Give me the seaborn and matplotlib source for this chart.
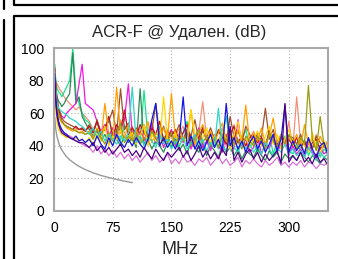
import matplotlib
matplotlib.use("Agg")
import matplotlib.pyplot as plt
import seaborn as sns
import pandas as pd
from matplotlib.lines import Line2D

# frequency points (MHz)
freq = [1, 2, 3, 4, 6, 8, 10, 13, 16, 20, 24, 28, 32, 36, 40,
        45, 50, 55, 60, 65, 70, 75, 80, 85, 90, 95, 100,
        105, 110, 115, 120, 125, 130, 135, 140, 145, 150,
        155, 160, 165, 170, 175, 180, 185, 190, 195, 200,
        205, 210, 215, 220, 225, 230, 235, 240, 245, 250,
        255, 260, 265, 270, 275, 280, 285, 290, 295, 300,
        305, 310, 315, 320, 325, 330, 335, 340, 345, 350]

salmon = [84, 80, 79, 78, 76, 74, 73, 70, 68, 66, 64, 62, 64, 60, 58,
          55, 50, 54, 47, 53, 46, 51, 45, 56, 48, 44, 52,
          46, 51, 43, 49, 55, 44, 48, 42, 50, 45,
          41, 48, 52, 43, 47, 40, 49, 67, 44, 39,
          47, 42, 51, 40, 45, 53, 41, 46, 38, 44,
          49, 40, 45, 37, 50, 42, 39, 46, 41, 55,
          38, 70, 42, 36, 44, 39, 47, 35, 41, 37]
spring = [90, 82, 78, 75, 73, 72, 70, 73, 76, 80, 100, 72, 66, 60, 56,
          54, 48, 55, 46, 51, 58, 45, 50, 43, 53, 47, 44,
          50, 42, 74, 45, 49, 41, 52, 44, 47, 40,
          46, 39, 48, 55, 41, 45, 38, 52, 43, 40,
          44, 38, 47, 58, 40, 46, 37, 43, 50, 39,
          42, 36, 45, 40, 48, 35, 43, 39, 46, 37,
          35, 41, 37, 44, 34, 39, 42, 33, 38, 35]
seagreen = [85, 78, 73, 70, 67, 66, 64, 66, 69, 72, 97, 66, 70, 58, 54,
            50, 46, 49, 43, 47, 41, 48, 44, 40, 46, 42, 45,
            39, 75, 41, 44, 38, 43, 40, 36, 42, 39,
            44, 37, 41, 35, 43, 39, 36, 42, 34, 40,
            37, 33, 41, 36, 39, 34, 38, 32, 37, 35,
            33, 38, 34, 31, 37, 33, 36, 30, 35, 32,
            34, 31, 36, 33, 30, 34, 32, 29, 33, 31]
magenta = [86, 76, 70, 66, 62, 60, 58, 57, 60, 62, 64, 66, 78, 90, 66,
           64, 62, 55, 49, 53, 46, 51, 44, 50, 56, 78, 47,
           43, 49, 45, 41, 54, 42, 47, 39, 45, 50,
           40, 46, 42, 49, 38, 44, 51, 39, 43, 37,
           45, 40, 36, 47, 41, 38, 56, 40, 44, 36,
           39, 46, 35, 42, 38, 47, 36, 41, 44, 34,
           40, 35, 38, 33, 42, 36, 32, 39, 35, 37]
brown = [88, 78, 72, 68, 63, 60, 57, 55, 54, 53, 52, 51, 50, 50, 49,
         53, 48, 56, 47, 51, 55, 62, 47, 75, 50, 54, 46,
         51, 47, 53, 45, 49, 66, 46, 52, 44, 49,
         47, 53, 44, 50, 46, 56, 43, 49, 45, 51,
         44, 50, 46, 42, 58, 45, 49, 43, 52, 47,
         42, 48, 45, 63, 44, 50, 41, 47, 43, 46,
         45, 41, 47, 40, 44, 38, 46, 42, 39, 43]
crimson = [87, 79, 73, 68, 62, 58, 55, 53, 52, 51, 50, 52, 50, 51, 49,
           52, 48, 55, 47, 50, 58, 46, 53, 49, 62, 47, 51,
           46, 53, 48, 44, 51, 47, 55, 43, 49, 46,
           50, 44, 48, 53, 42, 47, 45, 51, 43, 48,
           43, 49, 45, 41, 47, 52, 42, 46, 40, 45,
           47, 42, 45, 40, 49, 43, 39, 46, 41, 44,
           40, 45, 39, 43, 37, 42, 44, 38, 41, 36]
orange = [80, 72, 66, 62, 58, 56, 54, 53, 51, 50, 49, 50, 48, 49, 47,
          49, 45, 51, 44, 66, 47, 43, 76, 48, 45, 53, 44,
          50, 43, 47, 55, 42, 48, 45, 51, 44, 72,
          45, 51, 43, 47, 62, 41, 48, 53, 44, 49,
          42, 48, 54, 43, 46, 40, 50, 44, 65, 41,
          48, 43, 51, 41, 46, 57, 42, 47, 40, 45,
          42, 47, 39, 53, 41, 44, 38, 46, 40, 43]
gold = [76, 64, 58, 54, 50, 48, 47, 46, 45, 46, 44, 45, 43, 44, 42,
        45, 41, 47, 43, 52, 40, 46, 44, 50, 42, 45, 48,
        41, 46, 53, 40, 47, 43, 42, 70, 44, 41,
        48, 40, 45, 42, 62, 47, 39, 45, 51, 42,
        46, 40, 49, 44, 38, 47, 55, 41, 45, 39,
        44, 49, 40, 46, 52, 41, 47, 38, 44, 50,
        41, 38, 45, 40, 36, 48, 39, 35, 43, 38]
olive = [83, 74, 68, 64, 60, 57, 55, 53, 52, 51, 50, 49, 48, 48, 47,
         48, 44, 50, 45, 41, 48, 43, 47, 54, 42, 46, 43,
         47, 41, 45, 43, 49, 45, 40, 46, 42, 48,
         41, 46, 43, 48, 40, 45, 50, 42, 46, 40,
         45, 39, 47, 43, 50, 41, 44, 38, 46, 43,
         40, 46, 42, 38, 48, 43, 39, 45, 41, 47,
         43, 38, 45, 41, 77, 44, 37, 58, 40, 36]
turquoise = [86, 76, 70, 66, 63, 62, 61, 60, 59, 57, 56, 55, 53, 52, 50,
             47, 51, 45, 49, 43, 47, 44, 41, 46, 43, 48, 76,
             42, 46, 40, 45, 43, 39, 47, 41, 44, 38,
             43, 40, 45, 38, 42, 47, 39, 44, 37, 42,
             39, 63, 40, 37, 44, 39, 36, 42, 38, 41,
             36, 40, 35, 42, 38, 34, 39, 36, 41, 35,
             38, 34, 37, 33, 39, 35, 31, 36, 33, 35]
orchid = [80, 68, 62, 58, 54, 51, 49, 48, 47, 46, 45, 43, 42, 41, 40,
          39, 36, 40, 35, 38, 34, 37, 33, 36, 32, 35, 31,
          34, 30, 33, 36, 31, 34, 30, 32, 35, 29,
          32, 29, 34, 30, 31, 28, 32, 30, 33, 28,
          31, 34, 29, 32, 28, 30, 33, 27, 31, 29,
          32, 29, 27, 31, 28, 30, 33, 28, 30, 27,
          30, 28, 31, 27, 30, 29, 26, 29, 28, 30]
blue = [82, 70, 64, 60, 55, 52, 50, 48, 47, 45, 44, 46, 43, 44, 42,
        44, 40, 46, 41, 38, 45, 40, 47, 42, 39, 44, 40,
        45, 41, 38, 44, 56, 66, 40, 45, 39, 43,
        38, 44, 70, 40, 46, 38, 43, 37, 42, 47,
        39, 44, 37, 66, 40, 45, 38, 43, 36, 42,
        46, 38, 43, 36, 41, 47, 37, 44, 65, 36,
        43, 37, 41, 35, 45, 38, 33, 40, 42, 34]
indigo = [84, 70, 63, 58, 53, 50, 48, 47, 46, 45, 44, 43, 42, 42, 41,
          39, 42, 37, 40, 36, 39, 35, 38, 41, 36, 38, 34,
          37, 33, 39, 35, 32, 38, 34, 31, 36, 33,
          36, 39, 33, 37, 31, 35, 40, 33, 37, 32,
          36, 32, 38, 34, 52, 31, 36, 30, 35, 38,
          32, 36, 30, 35, 31, 34, 37, 29, 66, 30,
          34, 31, 36, 30, 33, 29, 35, 30, 32, 28]

# limit line
limit_freq = [1, 2, 3, 4, 6, 8, 10, 15, 20, 30, 40, 50, 60, 75, 90, 100]
limit_db = [57.4, 51.4, 47.9, 45.4, 41.8, 39.3, 37.4, 33.9, 31.4, 27.9,
            25.4, 23.4, 21.8, 19.9, 18.3, 17.4]

series = {
    "salmon": (salmon, "#F4907A"),
    "spring": (spring, "#19E38A"),
    "seagreen": (seagreen, "#2E8B57"),
    "magenta": (magenta, "#F01AE0"),
    "brown": (brown, "#A0522D"),
    "crimson": (crimson, "#C0141E"),
    "orange": (orange, "#FFA000"),
    "gold": (gold, "#FFD700"),
    "olive": (olive, "#9A9A14"),
    "turquoise": (turquoise, "#30D5C8"),
    "orchid": (orchid, "#DA70D6"),
    "blue": (blue, "#1414E6"),
    "indigo": (indigo, "#4B0082"),
}

rows = []
for name, (vals, _) in series.items():
    for f, v in zip(freq, vals):
        rows.append({"pair": name, "MHz": f, "dB": v})
df = pd.DataFrame(rows)
palette = {name: c for name, (_, c) in series.items()}

lim_df = pd.DataFrame({"MHz": limit_freq, "dB": limit_db})

sns.set_style("white")
plt.rcParams["font.family"] = ["Liberation Sans", "DejaVu Sans"]

fig = plt.figure(figsize=(3.38, 2.59), dpi=100)
ax = fig.add_axes([54 / 338, 48 / 259, 274 / 338, 163 / 259])

sns.lineplot(data=lim_df, x="MHz", y="dB", color="#9a9a9a", lw=1.0,
             ax=ax, legend=False)
sns.lineplot(data=df, x="MHz", y="dB", hue="pair", palette=palette,
             estimator=None, sort=False, lw=0.9, ax=ax, legend=False)

ax.set_xlim(0, 350)
ax.set_ylim(0, 100)
ax.set_xticks([0, 75, 150, 225, 300])
ax.set_yticks([0, 20, 40, 60, 80, 100])
ax.set_xlabel("")
ax.set_ylabel("")
ax.tick_params(length=0, labelsize=10, pad=7, colors="black")
ax.grid(True, color="#b0b0b0", linestyle=(0, (1, 2)), lw=0.8)
for sp in ax.spines.values():
    sp.set_color("#a8a8a8")
    sp.set_linewidth(1.5)

fig.text(179 / 338, 1 - 32 / 259, "ACR-F @ Удален. (dB)", ha="center",
         va="center", fontsize=12)
fig.text(180 / 338, 1 - 250 / 259, "MHz", ha="center", va="center",
         fontsize=13)

# panel frame lines
W, H = 338, 259
def seg(xs, ys):
    fig.add_artist(Line2D([x / W for x in xs], [1 - y / H for y in ys],
                          color="black", lw=1.6, transform=fig.transFigure))
seg([13.5, 13.5, 338], [0, 5, 5])
seg([3.5, 3.5], [0, 9])
seg([338, 14, 14], [16, 16, 259])
seg([3.5, 3.5], [20, 259])

fig.savefig("out.png", dpi=100)
